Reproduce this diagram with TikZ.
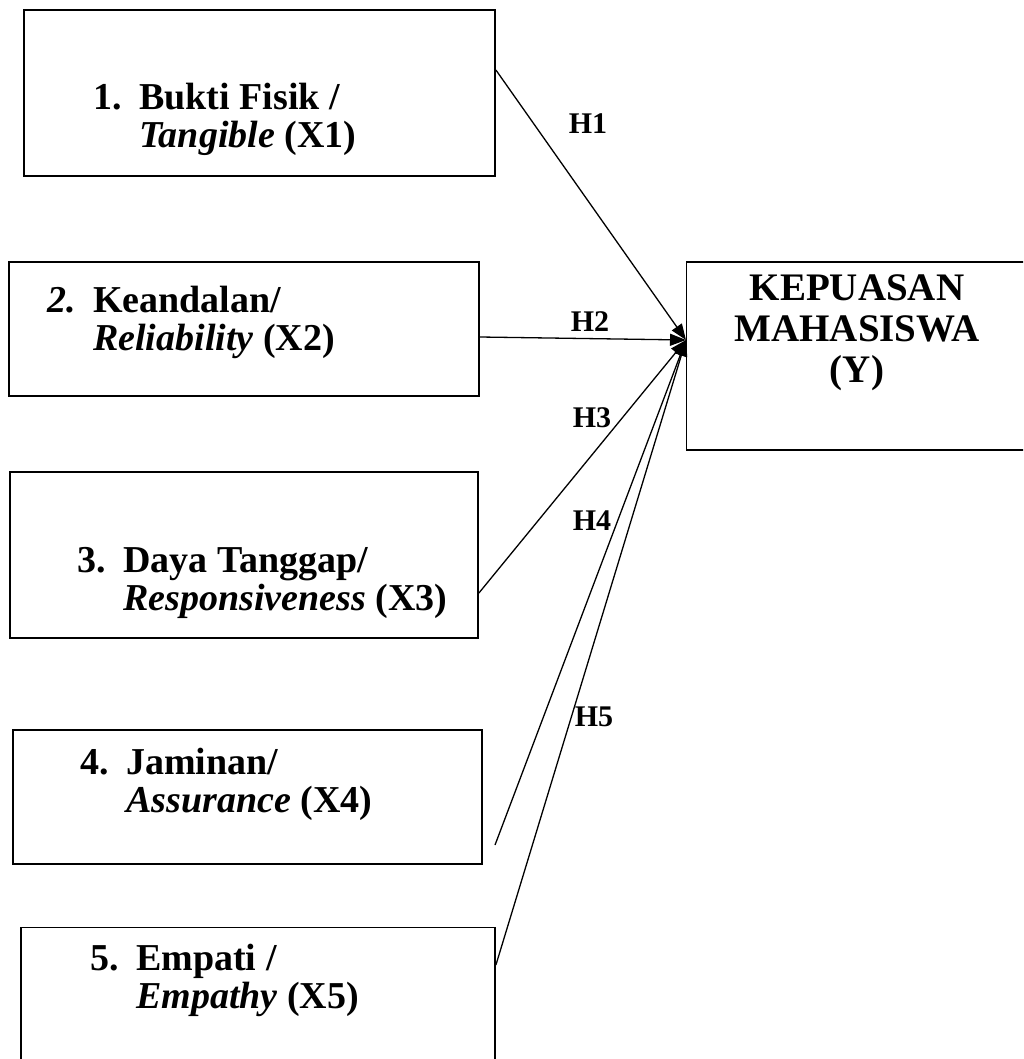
\documentclass[tikz,border=0pt]{standalone}
\usepackage{fontspec}
\setmainfont{Liberation Serif}
\usetikzlibrary{arrows.meta}
\begin{document}
\begin{tikzpicture}[x=1pt,y=-1pt,
  box/.style={draw,line width=1.8pt,rectangle,inner sep=0pt},
  txt/.style={anchor=base west,inner sep=0pt,font=\fontsize{38}{38}\selectfont\bfseries},
  ytxt/.style={anchor=base,inner sep=0pt,font=\fontsize{39}{41}\selectfont\bfseries},
  hlab/.style={anchor=center,inner sep=0pt,font=\fontsize{30}{30}\selectfont\bfseries},
  conn/.style={line width=1.3pt,-{Triangle[length=16pt,width=12pt]}}]
\clip (0,0) rectangle (1023,1059);
% boxes
\node[box,minimum width=471pt,minimum height=166pt] (b1) at (259.5,93) {};
\node[box,minimum width=470pt,minimum height=134pt] (b2) at (244,329) {};
\node[box,minimum width=468pt,minimum height=166pt] (b3) at (244,555) {};
\node[box,minimum width=469pt,minimum height=134pt] (b4) at (247.5,797) {};
\node[box,minimum width=474pt,minimum height=145pt] (b5) at (258,1000) {};
\node[box,minimum width=345pt,minimum height=188pt] (y) at (859,356) {};
% texts
\newcommand{\hang}[3]{\begin{tabular}[t]{@{}p{46pt}@{}l@{}}#1&#2\\&#3\end{tabular}}
\node[txt] (t1) at (93,110) {\hang{1.}{Bukti Fisik /}{\textit{Tangible} (X1)}};
\node[txt] (t2) at (47,312) {\hang{\textit{2.}}{Keandalan/}{\textit{Reliability} (X2)}};
\node[txt] (t3) at (77,572) {\hang{3.}{Daya Tanggap/}{\textit{Responsiveness} (X3)}};
\node[txt] (t4) at (80,774) {\hang{4.}{Jaminan/}{\textit{Assurance} (X4)}};
\node[txt] (t5) at (90,970) {\hang{5.}{Empati /}{\textit{Empathy} (X5)}};
\node[ytxt] (ty) at (857,300) {\begin{tabular}[t]{@{}c@{}}KEPUASAN\\MAHASISWA\\(Y)\end{tabular}};
% connectors
\coordinate (tip) at (686,340);
\coordinate (s1) at (b1.east |- 0,70);
\coordinate (s2) at (b2.east |- 0,337);
\coordinate (s3) at (b3.east |- 0,593);
\coordinate (s4) at (495,845);
\coordinate (s5) at (b5.east |- 0,965);
\draw[conn] (s1) -- (tip);
\draw[conn] (s2) -- (tip);
\draw[conn] (s3) -- (tip);
\draw[conn] (s4) -- (tip);
\draw[conn] (s5) -- (tip);
% labels
\node[hlab] (h1) at (588,124) {H1};
\node[hlab] (h2) at (590,322) {H2};
\node[hlab] (h3) at (592,418) {H3};
\node[hlab] (h4) at (592,521) {H4};
\node[hlab] (h5) at (594,717) {H5};
\end{tikzpicture}
\end{document}
